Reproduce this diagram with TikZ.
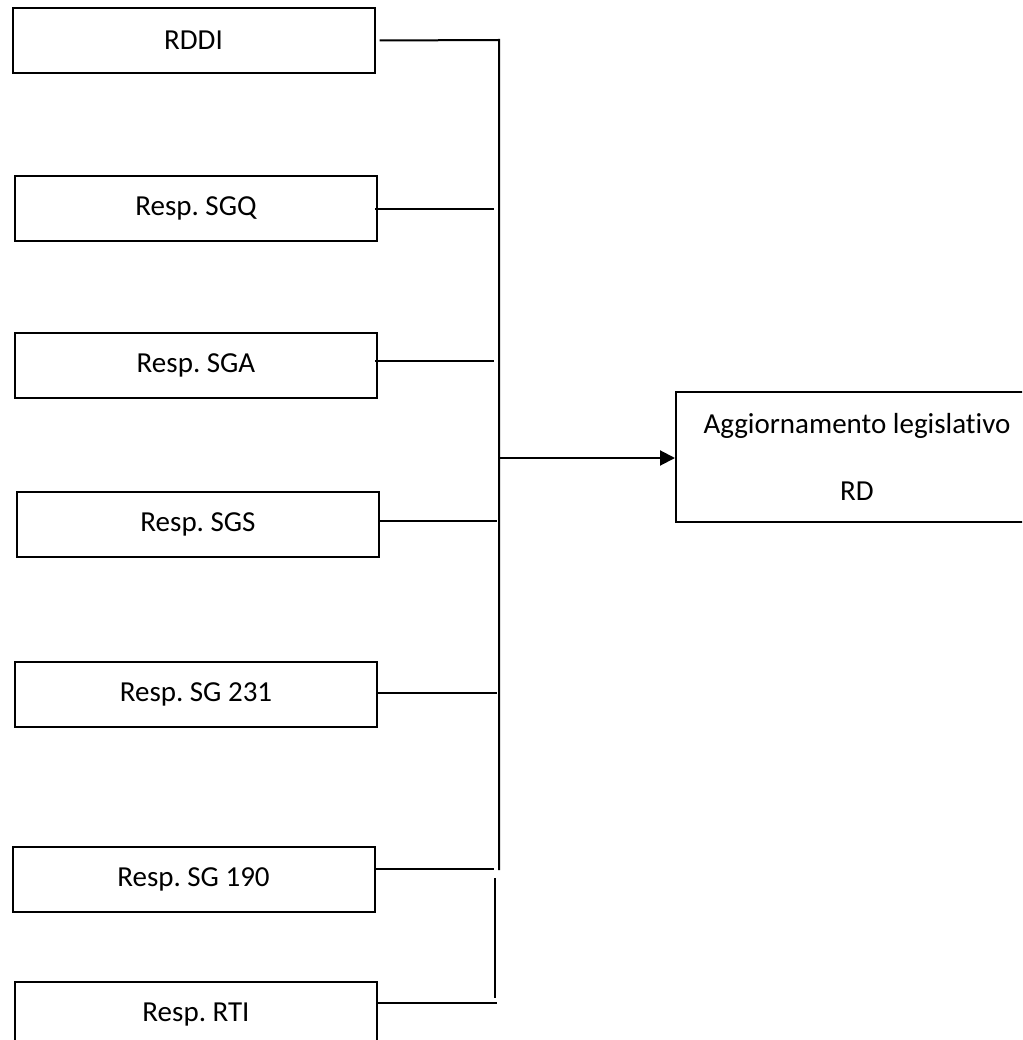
\documentclass[tikz,border=0pt]{standalone}
\usepackage{fontspec}
\setmainfont{Carlito}[Ligatures=NoCommon]
\usetikzlibrary{arrows.meta}
\frenchspacing
\begin{document}
\begin{tikzpicture}[x=1pt,y=-1pt,
  box/.style={draw, line width=2pt, minimum width=362pt, minimum height=65pt,
    inner sep=0pt, font=\fontsize{29}{35}\selectfont},
  wire/.style={line width=2pt}]
\useasboundingbox (0,0) rectangle (1022,1040);
\clip (0,0) rectangle (1022,1040);

% responsible roles
\node[box] (rddi)  at (193.5,40.5)  {RDDI};
\node[box] (sgq)   at (196,208.5)   {Resp. SGQ};
\node[box] (sga)   at (196,365)     {Resp. SGA};
\node[box] (sgs)   at (198,524.5)   {Resp. SGS};
\node[box] (sg231) at (196,694.5)   {Resp. SG 231};
\node[box] (sg190) at (193.5,879.5) {Resp. SG 190};
\node[box] (rti)   at (196,1014.5)  {Resp. RTI};

% target activity
\node[box, minimum height=130pt, align=center] (agg) at (857,457)
  {Aggiornamento legislativo\\[32pt]RD};

% junctions on the collecting lines
\coordinate (bustop) at (499,40);
\coordinate (busbot) at (499,870);
\coordinate (jsgq)   at (494,209);
\coordinate (jsga)   at (494,361);
\coordinate (jsgs)   at (497,521);
\coordinate (j231)   at (497,693);
\coordinate (j190)   at (494,869);
\coordinate (lowtop) at (495,878);
\coordinate (lowbot) at (495,998);
\coordinate (jrti)   at (497,1003);
\coordinate (jarrow) at (499,458);

% main collecting line
\draw[wire] ([xshift=4pt]rddi.east) -- (bustop) -- (busbot);
\draw[wire] ([xshift=-3pt]sgq.east |- jsgq) -- (jsgq);
\draw[wire] ([xshift=-3pt]sga.east |- jsga) -- (jsga);
\draw[wire] ([xshift=-2pt]sgs.east |- jsgs) -- (jsgs);
\draw[wire] (sg231.east |- j231) -- (j231);
\draw[wire] (sg190.east |- j190) -- (j190);

% lower line
\draw[wire] (lowtop) -- (lowbot);
\draw[wire] (rti.east |- jrti) -- (jrti);

% arrow to the activity
\draw[wire, -{Triangle[length=15pt,width=15pt]}] (jarrow) -- (agg.west |- jarrow);
\end{tikzpicture}
\end{document}
